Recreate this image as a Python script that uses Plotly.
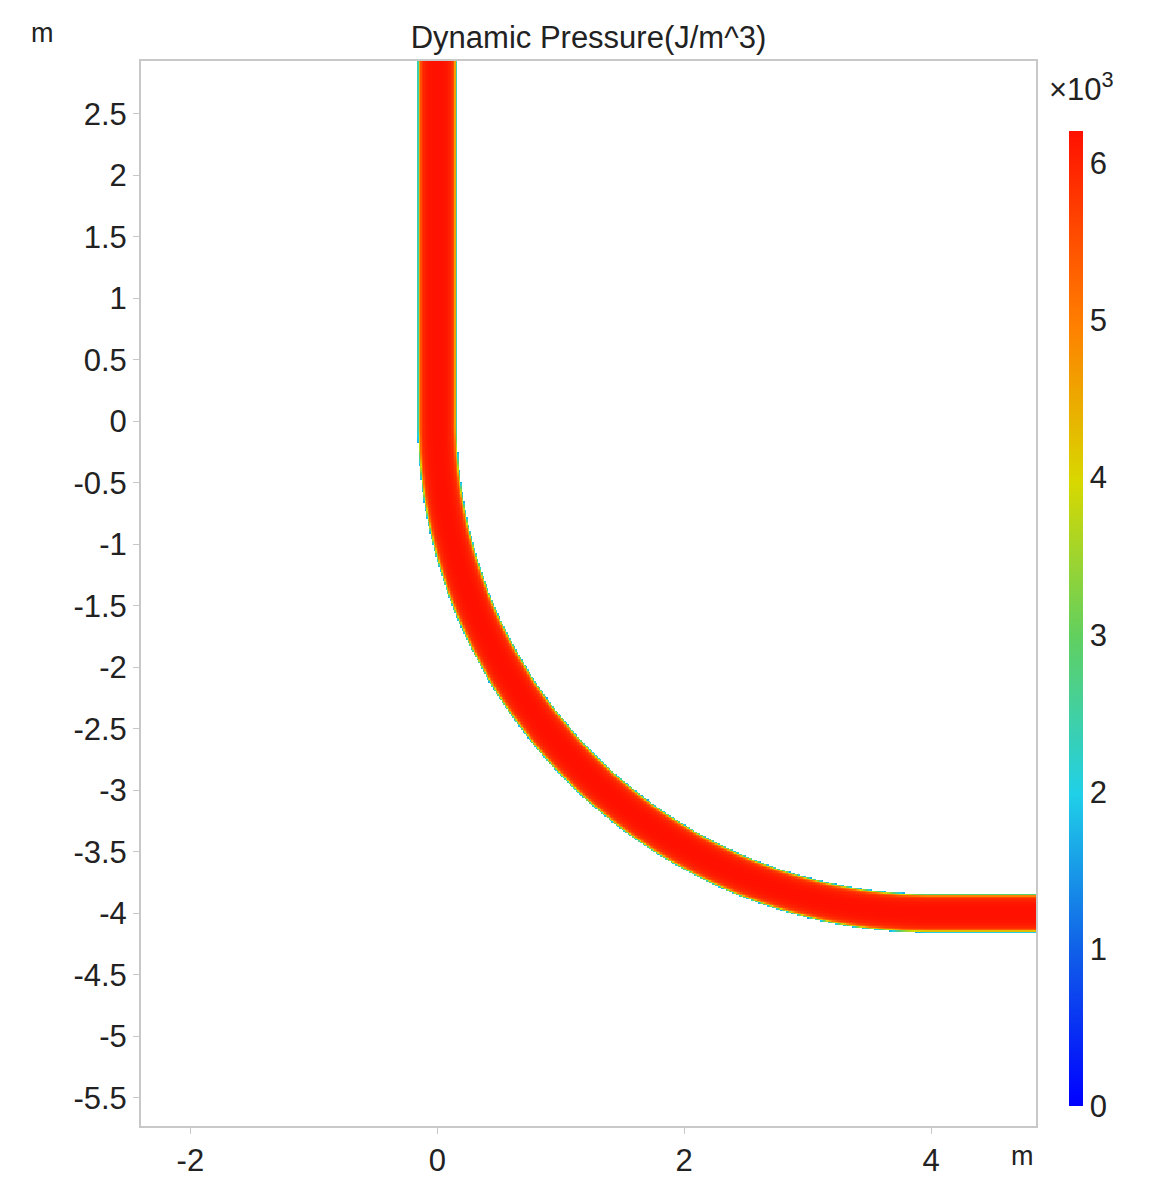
import numpy as np
import plotly.graph_objects as go

# ===================== Geometry & field profile =====================
x_range = [-2.4, 4.85]
y_range = [-5.73, 2.93]
bend_center = (4.0, 0.0)
bend_radius = 4.0
half_width = 0.16

# dynamic pressure across pipe width (centre -> wall), J/m^3
profile_pos = [0.0, 0.3, 0.5, 0.7, 0.8, 0.88, 0.94, 1.0]
profile_val = [6200, 6180, 6120, 5950, 5700, 5100, 3600, 1600]

cbar_ticks = [0, 1000, 2000, 3000, 4000, 5000, 6000]
cbar_text = ["0", "1", "2", "3", "4", "5", "6"]
x_ticks = [-2, 0, 2, 4]
y_ticks = [2.5, 2, 1.5, 1, 0.5, 0, -0.5, -1, -1.5, -2, -2.5, -3, -3.5, -4, -4.5, -5, -5.5]

# ===================== Build grid =====================
step = 0.012
xs = np.arange(x_range[0], x_range[1] + step, step)
ys = np.arange(y_range[0], y_range[1] + step, step)
X, Y = np.meshgrid(xs, ys)

cx, cy = bend_center
R = np.hypot(X - cx, Y - cy)
dist = np.where(Y >= 0, np.abs(X),
                np.where(X >= cx, np.abs(Y + bend_radius), np.abs(R - bend_radius)))
rel = dist / half_width
Z = np.interp(rel, profile_pos, profile_val)
Z[rel > 1] = np.nan

colorscale = [
    [0.0, "#0000ff"], [0.16, "#1060e8"], [0.32, "#20d0e8"],
    [0.48, "#60d060"], [0.64, "#d8d800"], [0.8, "#ff8000"], [1.0, "#ff1000"],
]

fig = go.Figure(go.Heatmap(
    x=xs, y=ys, z=Z, zmin=0, zmax=6200, colorscale=colorscale,
    hoverongaps=False,
    colorbar=dict(
        tickvals=cbar_ticks, ticktext=cbar_text, thickness=14,
        x=1.026, xanchor="left", y=0.009, yanchor="bottom", len=0.934,
        lenmode="fraction", outlinewidth=0, ticks="",
        tickfont=dict(size=31, color="#222"),
    ),
))

axis_common = dict(showgrid=False, zeroline=False, showline=True, mirror=True,
                   linecolor="#c8c8c8", linewidth=2, ticks="outside",
                   tickcolor="#c8c8c8", ticklen=6,
                   tickfont=dict(size=31, color="#222"))

fig.update_layout(
    width=1164, height=1193,
    margin=dict(l=133, r=136, t=53, b=75),
    paper_bgcolor="white", plot_bgcolor="white",
    font=dict(family="Liberation Sans, Arial, sans-serif"),
    title=dict(text="Dynamic Pressure(J/m^3)", x=0.5, xref="paper",
               y=0.985, yanchor="top", font=dict(size=31, color="#222")),
    xaxis=dict(range=x_range, tickvals=x_ticks,
               ticktext=[str(v) for v in x_ticks], **axis_common),
    yaxis=dict(range=y_range, tickvals=y_ticks,
               ticktext=[("%g" % v) for v in y_ticks], **axis_common),
    annotations=[
        dict(text="m", x=-0.11, y=1.01, xref="paper", yref="paper",
             xanchor="center", yanchor="bottom", showarrow=False,
             font=dict(size=27, color="#222")),
        dict(text="m", x=0.985, y=-0.012, xref="paper", yref="paper",
             xanchor="center", yanchor="top", showarrow=False,
             font=dict(size=27, color="#222")),
        dict(text="×10<sup>3</sup>", x=1.012, y=0.955, xref="paper", yref="paper",
             xanchor="left", yanchor="bottom", showarrow=False,
             font=dict(size=31, color="#222")),
    ],
)

fig.write_html("out.html")
